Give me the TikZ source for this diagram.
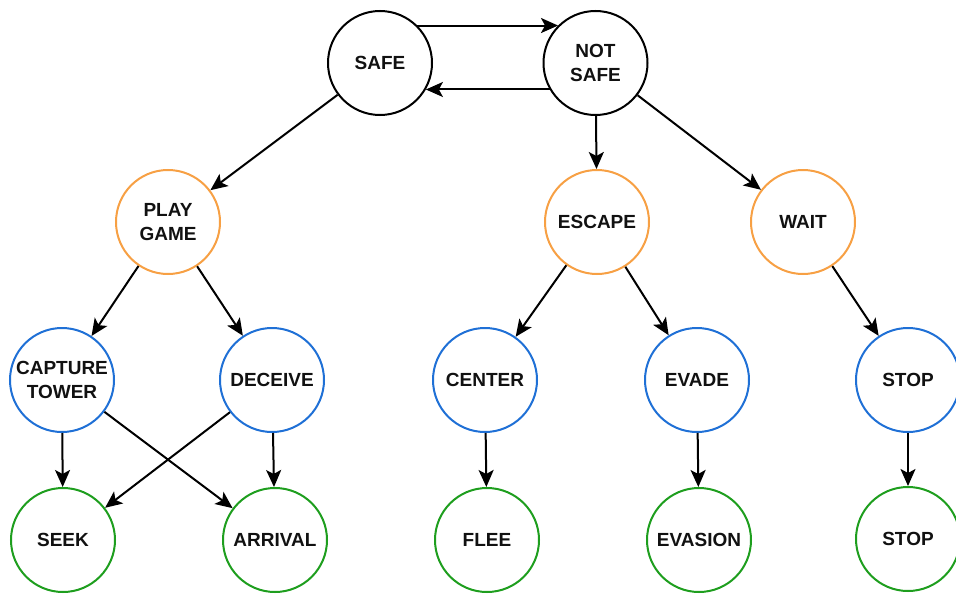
\documentclass[tikz,border=0pt]{standalone}
\usepackage{fontspec}
\setmainfont{Liberation Sans}
\usetikzlibrary{arrows.meta}
\definecolor{cOrange}{HTML}{F7A044}
\definecolor{cBlue}{HTML}{1F70D6}
\definecolor{cGreen}{HTML}{1E9E1E}
\definecolor{cText}{HTML}{111111}
\tikzset{
  state/.style={circle, draw=black, line width=2pt, minimum size=104pt, inner sep=0pt,
    align=center, text=cText, font=\bfseries\fontsize{19}{24}\selectfont, fill=white},
  orangestate/.style={state, draw=cOrange},
  bluestate/.style={state, draw=cBlue},
  greenstate/.style={state, draw=cGreen},
  arr/.style={line width=2pt, -{Stealth[length=17pt,width=15pt,inset=4pt]}, black}
}
\begin{document}
\begin{tikzpicture}[x=1pt,y=-1pt]
\useasboundingbox (0,0) rectangle (956,594);
\node[state] (safe) at (380,63) {SAFE};
\node[state] (notsafe) at (595.5,63) {NOT\\SAFE};
\node[orangestate] (play) at (168,222) {PLAY\\GAME};
\node[orangestate] (escape) at (597,222) {ESCAPE};
\node[orangestate] (wait) at (803,222) {WAIT};
\node[bluestate] (capture) at (62,380) {CAPTURE\\TOWER};
\node[bluestate] (deceive) at (272,380) {DECEIVE};
\node[bluestate] (center) at (485,380) {CENTER};
\node[bluestate] (evade) at (697,380) {EVADE};
\node[bluestate] (stopa) at (908,380) {STOP};
\node[greenstate] (seek) at (63,540) {SEEK};
\node[greenstate] (arrival) at (275,540) {ARRIVAL};
\node[greenstate] (flee) at (487,540) {FLEE};
\node[greenstate] (evasion) at (699,540) {EVASION};
\node[greenstate] (stopb) at (908,539) {STOP};

\draw[arr] (safe.45) -- (notsafe.135 |- safe.45);
\draw[arr] (notsafe.-150) -- (safe.-30 |- notsafe.-150);
\draw[arr] (safe) -- (play);
\draw[arr] (notsafe) -- (escape);
\draw[arr] (notsafe) -- (wait);
\draw[arr] (play) -- (capture);
\draw[arr] (play) -- (deceive);
\draw[arr] (escape) -- (center);
\draw[arr] (escape) -- (evade);
\draw[arr] (wait) -- (stopa);
\draw[arr] (capture) -- (seek);
\draw[arr] (capture) -- (arrival);
\draw[arr] (deceive) -- (seek);
\draw[arr] (deceive) -- (arrival);
\draw[arr] (center) -- (flee);
\draw[arr] (evade) -- (evasion);
\draw[arr] (stopa) -- (stopb);
\end{tikzpicture}
\end{document}
